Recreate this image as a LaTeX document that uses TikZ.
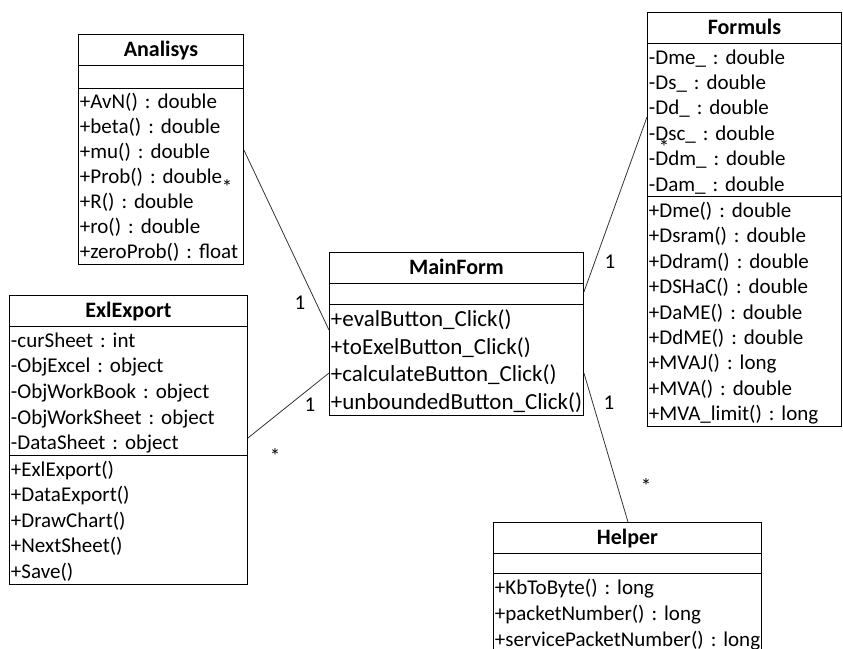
\documentclass[tikz,border=0pt]{standalone}
\usepackage{fontspec}
\setmainfont{Carlito}
\usetikzlibrary{shapes.multipart}
\newcommand{\rs}{\rule[-.2\baselineskip]{0pt}{\baselineskip}}
\newcommand{\members}[1]{\frenchspacing\foreach \m in {#1}{\mbox{\rs\m}\par}}
\newcommand{\nomembers}[1]{\rule{0pt}{#1}}
\newcommand{\umltitle}[1]{\makebox[\linewidth][c]{\fontsize{22}{26}\selectfont\rule[-8pt]{0pt}{30pt}\textbf{#1}}}
\begin{document}
\begin{tikzpicture}[x=1pt,y=-1pt]
    \tikzstyle{umlclass}=[rectangle split, rectangle split parts=3, draw, line width=0.9pt,
      inner xsep=1.5pt, inner ysep=0pt, align=left, anchor=north west,
      font=\fontsize{21}{25}\selectfont]
    \tikzstyle{assoc}=[line width=0.8pt, black!80]
    \tikzstyle{mult}=[inner sep=0pt, font=\fontsize{21}{25}\selectfont]

\useasboundingbox (0,0) rectangle (843,648);

% Classes
\node[umlclass, text width=162pt] (analisys) at (78,34) {\umltitle{Analisys}
  \nodepart{two}\nomembers{22pt}
  \nodepart{three}\members{+AvN() : double, +beta() : double, +mu() : double,
    +Prob() : double, +R() : double, +ro() : double, +zeroProb() : float}};

\node[umlclass, text width=235pt, font=\fontsize{21}{25.6}\selectfont] (exlexport) at (9,295) {\umltitle{ExlExport}
  \nodepart{two}\members{-curSheet : int, -ObjExcel : object, -ObjWorkBook : object,
    -ObjWorkSheet : object, -DataSheet : object}
  \nodepart{three}\members{+ExlExport(), +DataExport(), +DrawChart(), +NextSheet(), +Save()}};

\node[umlclass, text width=251pt, font=\fontsize{23}{27.5}\selectfont] (mainform) at (329,252) {\umltitle{MainForm}
  \nodepart{two}\nomembers{20pt}
  \nodepart{three}\members{+evalButton\_Click(), +toExelButton\_Click(),
    +calculateButton\_Click(), +unboundedButton\_Click()}};

\node[umlclass, text width=191pt, font=\fontsize{21}{25.4}\selectfont] (formuls) at (647,12) {\umltitle{Formuls}
  \nodepart{two}\members{-Dme\_ : double, -Ds\_ : double, -Dd\_ : double,
    -Dsc\_ : double, -Ddm\_ : double, -Dam\_ : double}
  \nodepart{three}\members{+Dme() : double, +Dsram() : double, +Ddram() : double,
    +DSHaC() : double, +DaME() : double, +DdME() : double, +MVAJ() : long,
    +MVA() : double, +MVA\_limit() : long}};

\node[umlclass, text width=265pt, font=\fontsize{21}{26}\selectfont] (helper) at (493,522) {\umltitle{Helper}
  \nodepart{two}\nomembers{19pt}
  \nodepart{three}\members{+KbToByte() : long, +packetNumber() : long,
    +servicePacketNumber() : long}};

% Associations
\draw[assoc] ([yshift=-116pt]analisys.north east) -- ([yshift=-78pt]mainform.north west);
\draw[assoc] ([yshift=-143pt]exlexport.north east) -- ([yshift=-121pt]mainform.north west);
\draw[assoc] ([yshift=-40pt]mainform.north east) -- ([yshift=-105pt]formuls.north west);
\draw[assoc] ([yshift=-121pt]mainform.north east) -- ([xshift=135pt]helper.north west);

% Multiplicites
\node[mult] (m-an) at (227,187) {*};
\node[mult] (m-mf1) at (300,303) {1};
\node[mult] (m-ex) at (275,456) {*};
\node[mult] (m-mf2) at (310,405) {1};
\node[mult] (m-mf3) at (610,262) {1};
\node[mult] (m-fo) at (664,147) {*};
\node[mult] (m-mf4) at (609,403) {1};
\node[mult] (m-he) at (646,486) {*};

\end{tikzpicture}
\end{document}
